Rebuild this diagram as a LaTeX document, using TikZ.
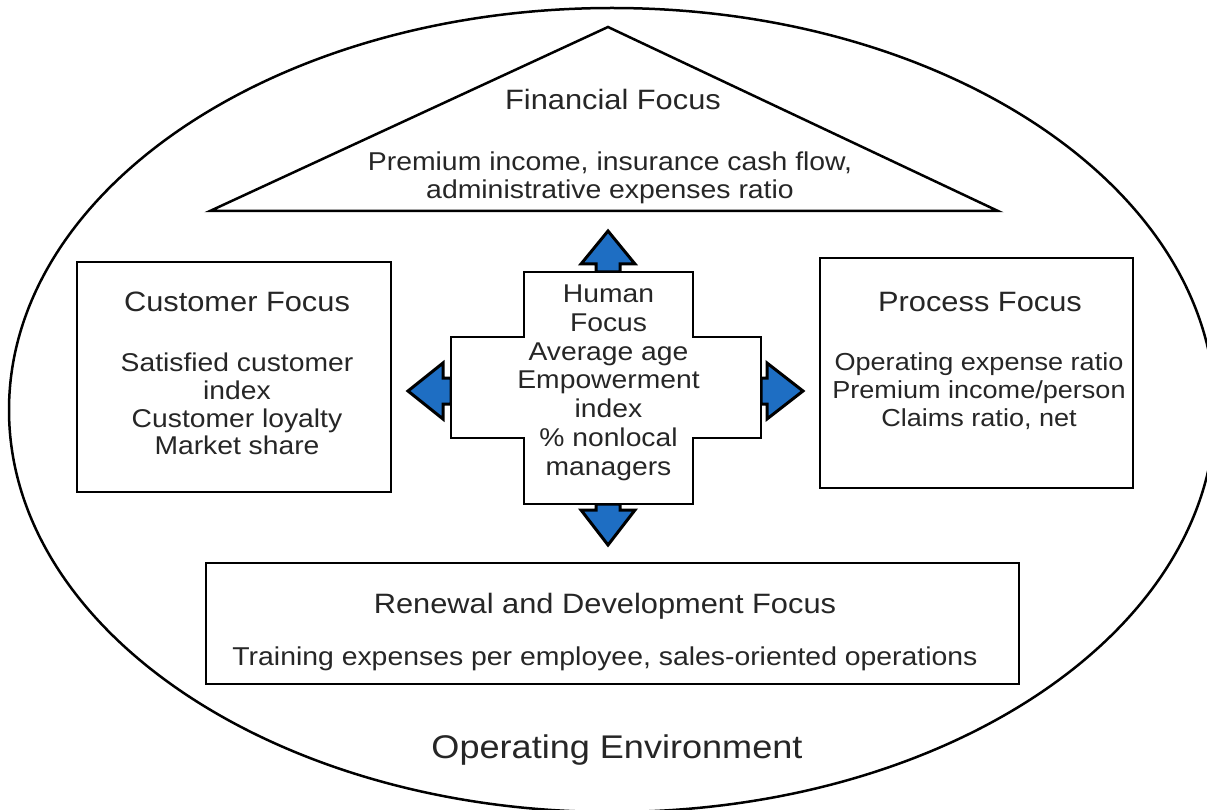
\documentclass[tikz,border=0pt]{standalone}
\usepackage{fontspec}
\setmainfont{Liberation Sans}[FakeStretch=1.1]
\definecolor{txt}{HTML}{262626}
\definecolor{arrowblue}{RGB}{30,110,195}
\begin{document}
\begin{tikzpicture}[x=1pt,y=-1pt,
  outline/.style={draw=black, line width=2.5pt, line join=miter},
  focusbox/.style={outline, fill=white, inner sep=0pt},
  blk/.style={anchor=north, inner sep=0pt, align=center, text=txt},
  lbl/.style={anchor=base, inner sep=0pt, text=txt, font=\fontsize{28}{28}\selectfont},
  bluearrow/.style={fill=arrowblue, draw=black, line width=3pt, line join=miter},
]
\useasboundingbox (0,0) rectangle (1207,810);
\begin{scope}
  \clip (0,0) rectangle (1207,810);
  \draw[line width=2.5pt] (612,410) ellipse [x radius=603pt, y radius=402pt];
\end{scope}
% financial triangle
\coordinate (apex) at (608,27);
\coordinate (bright) at (998,211);
\coordinate (bleft) at (210,211);
\draw[outline] (apex) -- (bright) -- (bleft) -- cycle;
% boxes
\node[focusbox, minimum width=314pt, minimum height=230pt] (cust) at (234,377) {};
\node[focusbox, minimum width=313pt, minimum height=230pt] (proc) at (976.5,373) {};
\node[focusbox, minimum width=813pt, minimum height=121pt] (ren) at (612.5,623.5) {};
% arrows
\draw[bluearrow] (596,272) -- (596,264) -- (581,264) -- (608,231) -- (635,264) -- (620,264) -- (620,272) -- cycle;
\draw[bluearrow] (451,378) -- (443,378) -- (443,363) -- (408,391) -- (443,419) -- (443,404) -- (451,404) -- cycle;
\draw[bluearrow] (761,378) -- (767,378) -- (767,363) -- (803,391) -- (767,419) -- (767,404) -- (761,404) -- cycle;
\draw[bluearrow] (596,504) -- (596,510) -- (581,510) -- (608,545) -- (635,510) -- (620,510) -- (620,504) -- cycle;
% human cross
\draw[outline, fill=white] (524,272) -- (693,272) -- (693,337) -- (761,337) -- (761,438) -- (693,438) -- (693,504) -- (524,504) -- (524,438) -- (451,438) -- (451,337) -- (524,337) -- cycle;
% texts
\node[lbl] (fintitle) at (613,110) {Financial Focus};
\node[blk, font=\fontsize{25.8}{28}\selectfont] (finbody) at (610,151.5) {Premium income, insurance cash flow,\\administrative expenses ratio};
\node[lbl] (custtitle) at (237,311) {Customer Focus};
\node[blk, font=\fontsize{25.7}{27.7}\selectfont] (custbody) at (237,353) {Satisfied customer\\index\\Customer loyalty\\Market share};
\node[lbl] (proctitle) at (980,311) {Process Focus};
\node[blk, font=\fontsize{24.6}{28}\selectfont] (procbody) at (979,352) {Operating expense ratio\\Premium income/person\\Claims ratio, net};
\node[blk, font=\fontsize{25.7}{28.7}\selectfont] (human) at (608.5,285) {Human\\Focus\\Average age\\Empowerment\\index\\\% nonlocal\\managers};
\node[lbl] (rentitle) at (605,613) {Renewal and Development Focus};
\node[lbl, font=\fontsize{25.8}{28}\selectfont] (renbody) at (605,665) {Training expenses per employee, sales-oriented operations};
\node[lbl, font=\fontsize{32.8}{32}\selectfont] (openv) at (617,758) {Operating Environment};
\end{tikzpicture}
\end{document}
